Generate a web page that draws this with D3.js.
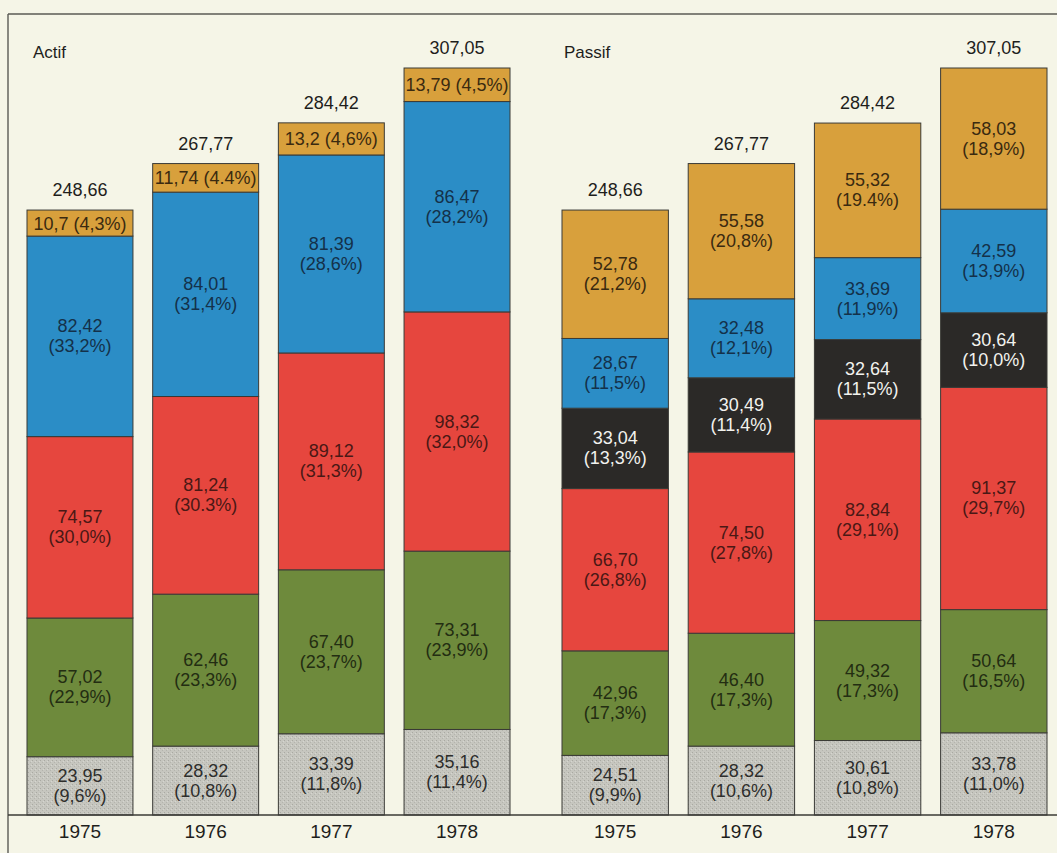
<!DOCTYPE html>
<html>
<head>
<meta charset="utf-8">
<script src="https://cdn.jsdelivr.net/npm/d3@7"></script>
<style>
  html, body { margin: 0; padding: 0; background: #f5f5e7; }
  svg { display: block; }
  text { font-family: "Liberation Sans", Arial, Helvetica, sans-serif; }
</style>
</head>
<body>
<svg id="chart" width="1057" height="853"></svg>
<script>
// Years shown under each group of bars
const years = ["1975", "1976", "1977", "1978"];

// Balance totals (milliards) printed above the bars
const totals = ["248,66", "267,77", "284,42", "307,05"];

// Actif components, bottom to top
const actifGray   = [23.95, 28.32, 33.39, 35.16];
const actifGreen  = [57.02, 62.46, 67.40, 73.31];
const actifRed    = [74.57, 81.24, 89.12, 98.32];
const actifBlue   = [82.42, 84.01, 81.39, 86.47];
const actifOrange = [10.7, 11.74, 13.2, 13.79];

const actifGrayPct   = ["9,6", "10,8", "11,8", "11,4"];
const actifGreenPct  = ["22,9", "23,3", "23,7", "23,9"];
const actifRedPct    = ["30,0", "30.3", "31,3", "32,0"];
const actifBluePct   = ["33,2", "31,4", "28,6", "28,2"];
const actifOrangePct = ["4,3", "4.4", "4,6", "4,5"];

// Passif components, bottom to top
const passifGray   = [24.51, 28.32, 30.61, 33.78];
const passifGreen  = [42.96, 46.40, 49.32, 50.64];
const passifRed    = [66.70, 74.50, 82.84, 91.37];
const passifBlack  = [33.04, 30.49, 32.64, 30.64];
const passifBlue   = [28.67, 32.48, 33.69, 42.59];
const passifOrange = [52.78, 55.58, 55.32, 58.03];

const passifGrayPct   = ["9,9", "10,6", "10,8", "11,0"];
const passifGreenPct  = ["17,3", "17,3", "17,3", "16,5"];
const passifRedPct    = ["26,8", "27,8", "29,1", "29,7"];
const passifBlackPct  = ["13,3", "11,4", "11,5", "10,0"];
const passifBluePct   = ["11,5", "12,1", "11,9", "13,9"];
const passifOrangePct = ["21,2", "20,8", "19.4", "18,9"];

const palette = {
  gray:   "#c6c6bf",
  green:  "#6e8a3c",
  red:    "#e6463e",
  black:  "#2b2927",
  blue:   "#2b8dc6",
  orange: "#d8a03c"
};
const ink = {
  gray:   "#2e2e2c",
  green:  "#232d12",
  red:    "#4a1815",
  black:  "#f2f2ee",
  blue:   "#14314a",
  orange: "#3a2a10"
};

// French decimal comma; two decimals unless the figure is quoted with one
const fr2 = d3.formatLocale({ decimal: ",", thousands: " ", grouping: [3], currency: ["", ""] }).format(".2f");
const fr1 = d3.formatLocale({ decimal: ",", thousands: " ", grouping: [3], currency: ["", ""] }).format(".1f");
const fmt = v => (Math.abs(v * 10 - Math.round(v * 10)) < 1e-9 && v < 20) ? fr1(v) : fr2(v);

const actif = [
  { key: "gray",   values: actifGray,   pct: actifGrayPct },
  { key: "green",  values: actifGreen,  pct: actifGreenPct },
  { key: "red",    values: actifRed,    pct: actifRedPct },
  { key: "blue",   values: actifBlue,   pct: actifBluePct },
  { key: "orange", values: actifOrange, pct: actifOrangePct, inline: true }
];
const passif = [
  { key: "gray",   values: passifGray,   pct: passifGrayPct },
  { key: "green",  values: passifGreen,  pct: passifGreenPct },
  { key: "red",    values: passifRed,    pct: passifRedPct },
  { key: "black",  values: passifBlack,  pct: passifBlackPct },
  { key: "blue",   values: passifBlue,   pct: passifBluePct },
  { key: "orange", values: passifOrange, pct: passifOrangePct }
];

const svg = d3.select("#chart");
const W = 1057, H = 853;
const baseY = 815;

// fine stipple used on the grey segments
const defs = svg.append("defs");
const pat = defs.append("pattern").attr("id", "stipple")
  .attr("width", 4).attr("height", 4).attr("patternUnits", "userSpaceOnUse");
pat.append("rect").attr("width", 4).attr("height", 4).attr("fill", palette.gray);
pat.append("rect").attr("x", 0).attr("y", 0).attr("width", 1).attr("height", 1).attr("fill", "#a9a9a2");
pat.append("rect").attr("x", 2).attr("y", 2).attr("width", 1).attr("height", 1).attr("fill", "#b4b4ad");
pat.append("rect").attr("x", 3).attr("y", 1).attr("width", 1).attr("height", 1).attr("fill", "#d6d6d0");

const y = d3.scaleLinear().domain([0, 307.05]).range([baseY, 68]);

// Frame lines
svg.append("line").attr("x1", 8).attr("x2", W).attr("y1", 14).attr("y2", 14)
  .attr("stroke", "#5a5a55").attr("stroke-width", 1.6);
svg.append("line").attr("x1", 8).attr("x2", 8).attr("y1", 14).attr("y2", H)
  .attr("stroke", "#5a5a55").attr("stroke-width", 1.4);

function drawGroup(layers, range, title) {
  const x = d3.scaleBand().domain(years).range(range).paddingInner(0.157).paddingOuter(0);
  const g = svg.append("g");

  // stacked rows for each year
  const rows = years.map((yr, i) => {
    const r = { year: yr };
    layers.forEach(l => r[l.key] = l.values[i]);
    return r;
  });
  const stack = d3.stack().keys(layers.map(l => l.key))(rows);

  stack.forEach((series, li) => {
    const layer = layers[li];
    series.forEach((d, i) => {
      const x0 = x(years[i]), bw = x.bandwidth();
      const y0 = y(d[1]), y1 = y(d[0]);
      g.append("rect")
        .attr("x", x0).attr("y", y0)
        .attr("width", bw).attr("height", y1 - y0)
        .attr("fill", layer.key === "gray" ? "url(#stipple)" : palette[layer.key])
        .attr("stroke", "#3a3a36").attr("stroke-width", 1);

      const cx = x0 + bw / 2, cy = (y0 + y1) / 2;
      const val = fmt(layer.values[i]);
      const pct = "(" + layer.pct[i] + "%)";
      const t = g.append("text")
        .attr("x", cx).attr("text-anchor", "middle")
        .attr("font-size", 18).attr("fill", ink[layer.key]);
      if (layer.inline) {
        t.attr("y", cy + 6.5).text(val + " " + pct);
      } else {
        t.append("tspan").attr("x", cx).attr("y", cy - 4).text(val);
        t.append("tspan").attr("x", cx).attr("y", cy + 16).text(pct);
      }
    });
  });

  // totals above each bar
  const top = stack[stack.length - 1];
  years.forEach((yr, i) => {
    g.append("text")
      .attr("x", x(yr) + x.bandwidth() / 2)
      .attr("y", y(top[i][1]) - 14)
      .attr("text-anchor", "middle")
      .attr("font-size", 18).attr("fill", "#1e1e1c")
      .text(totals[i]);
  });

  // year axis below the baseline
  const axis = d3.axisBottom(x).tickSize(0).tickPadding(0);
  const ax = g.append("g").attr("transform", `translate(0,${baseY})`).call(axis);
  ax.select(".domain").remove();
  ax.selectAll("text")
    .attr("font-size", 19).attr("fill", "#1e1e1c")
    .attr("font-family", "Liberation Sans, Arial, sans-serif")
    .attr("y", 23).attr("dy", 0);

  g.append("text").attr("x", range[0] + (title === "Actif" ? 6 : 2)).attr("y", 58)
    .attr("font-size", 17).attr("fill", "#1e1e1c").text(title);
}

drawGroup(actif, [27, 510], "Actif");
drawGroup(passif, [562, 1047], "Passif");

// baseline across the whole frame
svg.append("line").attr("x1", 8).attr("x2", W).attr("y1", baseY).attr("y2", baseY)
  .attr("stroke", "#3a3a36").attr("stroke-width", 1.4);
</script>
</body>
</html>
